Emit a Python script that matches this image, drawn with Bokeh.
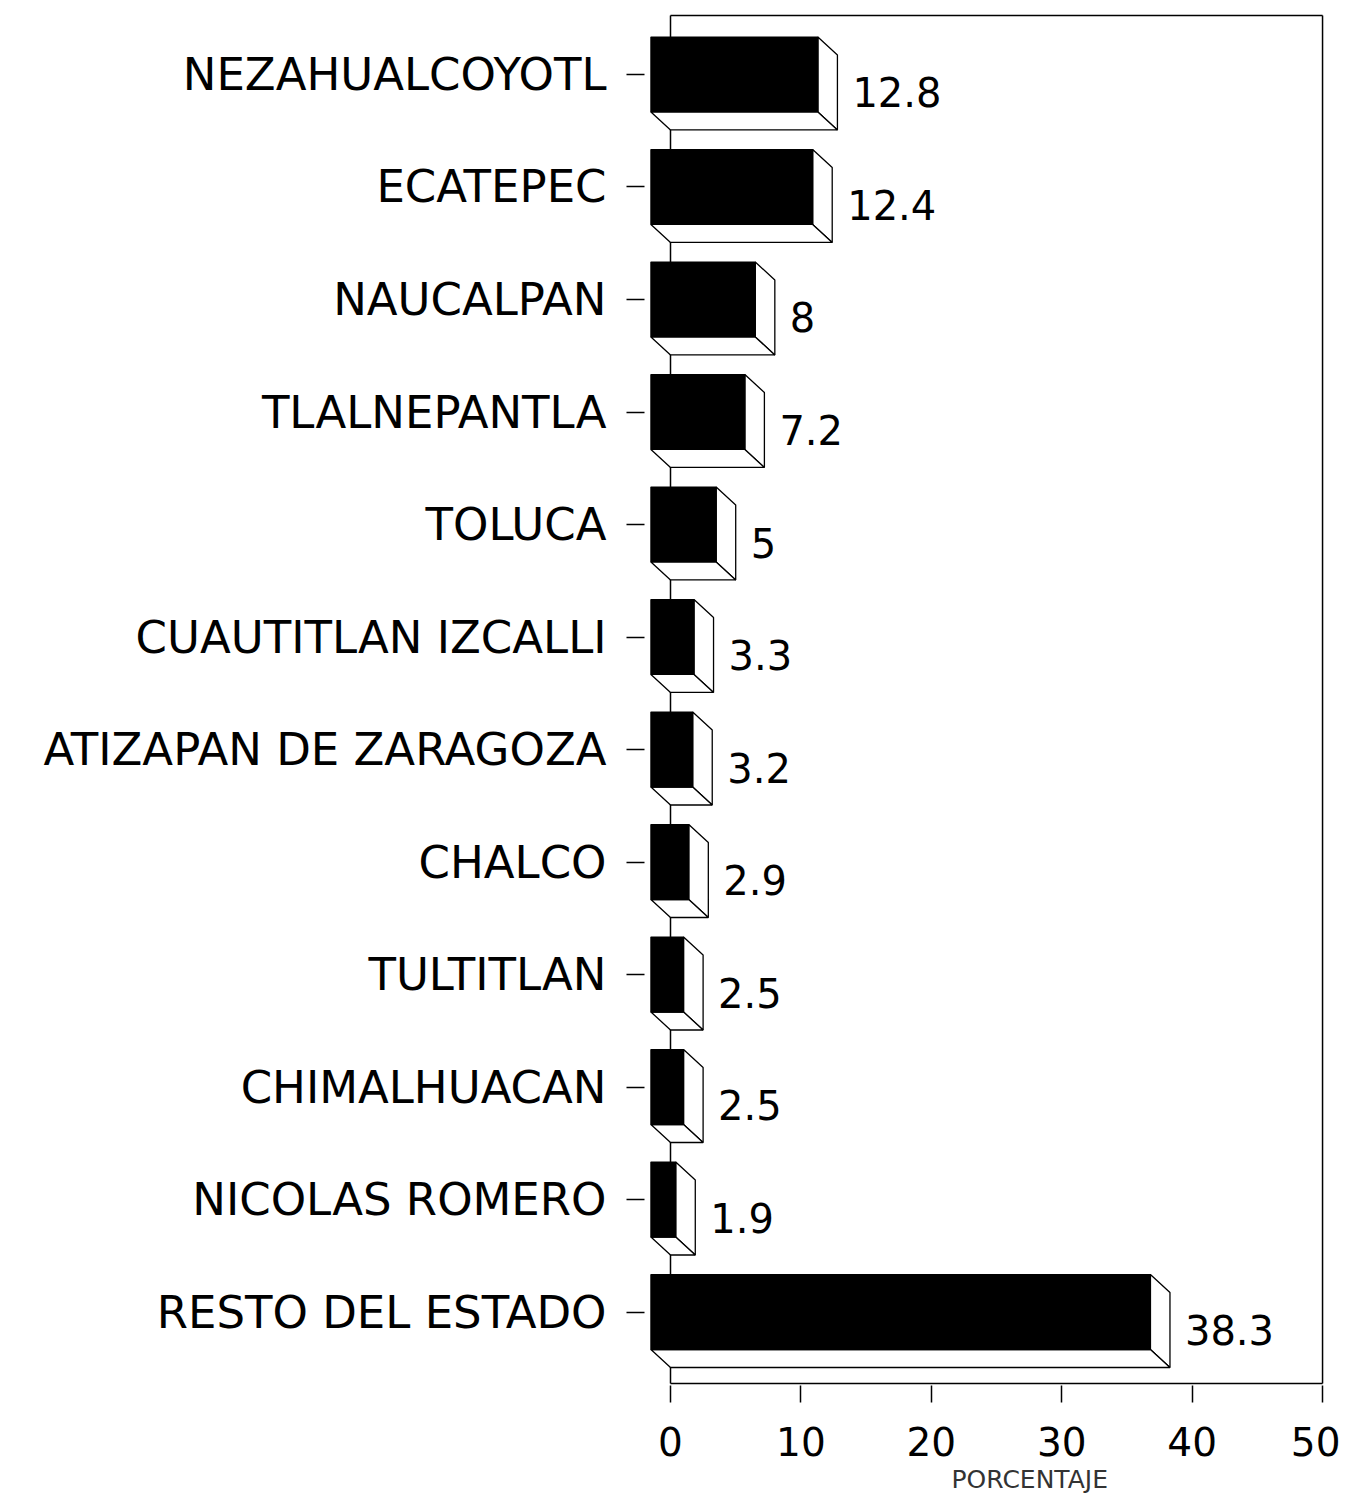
from bokeh.plotting import figure
from bokeh.models import Range1d, FixedTicker, ColumnDataSource, Title
from bokeh.core.properties import value
from bokeh.embed import file_html
from bokeh.resources import INLINE

# ---- data ----
categories = ["NEZAHUALCOYOTL", "ECATEPEC", "NAUCALPAN", "TLALNEPANTLA", "TOLUCA",
              "CUAUTITLAN IZCALLI", "ATIZAPAN DE ZARAGOZA", "CHALCO", "TULTITLAN",
              "CHIMALHUACAN", "NICOLAS ROMERO", "RESTO DEL ESTADO"]
values = [12.8, 12.4, 8, 7.2, 5, 3.3, 3.2, 2.9, 2.5, 2.5, 1.9, 38.3]
value_labels = ["12.8", "12.4", "8", "7.2", "5", "3.3", "3.2", "2.9", "2.5", "2.5", "1.9", "38.3"]
x_ticks = [0, 10, 20, 30, 40, 50]
x_title = "PORCENTAJE"

FONT = "DejaVu Sans"

# ---- geometry (3D box look) ----
DX = 1.5     # depth in x data units
DY = 0.16    # depth in y (row) units
H = 0.333    # half bar height in row units
Y_TOP_WALL = -0.524
Y_FLOOR = 11.636

p = figure(width=1340, height=1500, output_backend="svg", toolbar_location=None,
           x_range=Range1d(-1.994, 50.61), y_range=Range1d(11.653, -0.551),
           min_border_left=644, min_border_right=10, min_border_top=12, min_border_bottom=115)
p.outline_line_color = None
p.xgrid.visible = False
p.ygrid.visible = False
p.background_fill_color = "white"
p.border_fill_color = "white"

# back walls
p.segment(x0=[0, 0, 50, 0], y0=[Y_TOP_WALL, Y_TOP_WALL, Y_TOP_WALL, Y_FLOOR],
          x1=[0, 50, 50, 50], y1=[Y_FLOOR, Y_TOP_WALL, Y_FLOOR, Y_FLOOR],
          line_color="black", line_width=1.5)

front_xs, front_ys, side_xs, side_ys, bot_xs, bot_ys = [], [], [], [], [], []
for i, v in enumerate(values):
    front_xs.append([-DX, v - DX, v - DX, -DX])
    front_ys.append([i - H, i - H, i + H, i + H])
    side_xs.append([v - DX, v, v, v - DX])
    side_ys.append([i - H, i - H + DY, i + H + DY, i + H])
    bot_xs.append([-DX, v - DX, v, 0])
    bot_ys.append([i + H, i + H, i + H + DY, i + H + DY])

p.patches(xs=side_xs, ys=side_ys, fill_color="white", line_color="black", line_width=1.3)
p.patches(xs=bot_xs, ys=bot_ys, fill_color="white", line_color="black", line_width=1.3)
p.patches(xs=front_xs, ys=front_ys, fill_color="black", line_color="black", line_width=1.3)

src = ColumnDataSource(dict(x=[v + 1.15 for v in values],
                            y=[i + DY for i in range(len(values))],
                            t=value_labels))
p.text(x="x", y="y", text="t", source=src, text_font=value(FONT), text_font_size="40px",
       text_align="left", text_baseline="middle", text_color="black")

# y axis (categories)
ya = p.yaxis[0]
ya.ticker = FixedTicker(ticks=list(range(len(categories))))
ya.major_label_overrides = {i: c for i, c in enumerate(categories)}
ya.axis_line_color = None
ya.major_tick_in = 0
ya.major_tick_out = 18
ya.major_tick_line_width = 1.5
ya.minor_tick_line_color = None
ya.major_label_standoff = 20
ya.major_label_text_font = FONT
ya.major_label_text_font_size = "45px"
ya.major_label_text_color = "black"

# x axis
xa = p.xaxis[0]
xa.ticker = FixedTicker(ticks=x_ticks)
xa.axis_line_color = None
xa.major_tick_in = 0
xa.major_tick_out = 17
xa.major_tick_line_width = 1.5
xa.minor_tick_line_color = None
xa.major_label_standoff = 24
xa.major_label_text_font = FONT
xa.major_label_text_font_size = "39px"
xa.major_label_text_color = "black"

p.add_layout(Title(text=x_title, align="left", offset=307, standoff=8,
                   text_font=FONT, text_font_size="25px", text_font_style="normal",
                   text_color="#333333"), "below")

open("out.html", "w").write(file_html(p, INLINE))
